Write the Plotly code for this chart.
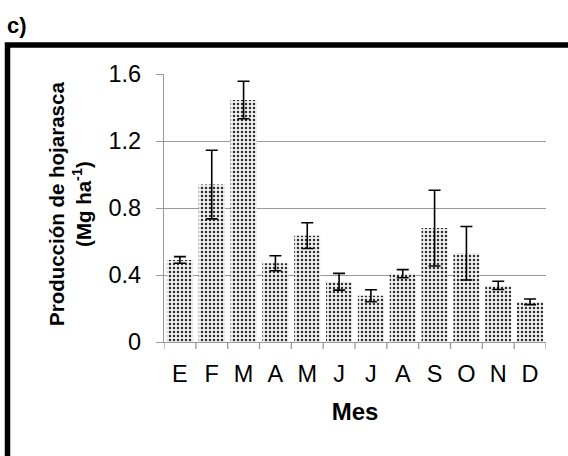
import plotly.graph_objects as go

# Monthly litterfall production (mean ± error)
meses = ["E", "F", "M", "A", "M", "J", "J", "A", "S", "O", "N", "D"]
produccion = [0.49, 0.94, 1.445, 0.47, 0.635, 0.36, 0.276, 0.408, 0.68, 0.53, 0.338, 0.24]
error = [0.02, 0.205, 0.112, 0.045, 0.077, 0.05, 0.036, 0.024, 0.226, 0.16, 0.025, 0.017]

y_ticks = [0, 0.4, 0.8, 1.2, 1.6]
y_tick_text = ["0", "0.4", "0.8", "1.2", "1.6"]

FONT = "Liberation Sans, Arial, sans-serif"
GRID = "#9a9a9a"

x_pos = list(range(len(meses)))

fig = go.Figure()
fig.add_trace(go.Bar(
    x=x_pos,
    y=produccion,
    width=0.82,
    marker=dict(
        color="#eeeeee",
        line=dict(width=0),
        pattern=dict(shape=".", fgcolor="#2e2e2e", bgcolor="#f2f2f2",
                     size=4, solidity=0.3, fillmode="replace"),
    ),
    error_y=dict(type="data", array=error, visible=True,
                 color="black", thickness=1.6, width=6),
    showlegend=False,
))

W, H = 568, 456
L, R, T, B = 164, 22, 74, 114
pw, ph = W - L - R, H - T - B


def px_x(px):
    return (px - L) / pw


def px_y(py):
    return (H - B - py) / ph


fig.update_layout(
    width=W, height=H,
    margin=dict(l=L, r=R, t=T, b=B, pad=0),
    paper_bgcolor="white",
    plot_bgcolor="white",
    font=dict(family=FONT, color="black"),
    bargap=0.18,
    xaxis=dict(
        tickmode="array",
        tickvals=x_pos,
        ticktext=meses,
        range=[-0.5, len(meses) - 0.5],
        showgrid=False,
        showline=True, linecolor=GRID, linewidth=1.3,
        ticks="", tickfont=dict(size=23.5, family=FONT),
        ticklabelstandoff=11,
        title=dict(text="<b>Mes</b>", font=dict(size=24, family=FONT), standoff=16),
        zeroline=False,
    ),
    yaxis=dict(
        range=[0, 1.6],
        tickmode="array",
        tickvals=y_ticks,
        ticktext=y_tick_text,
        showgrid=True, gridcolor=GRID, gridwidth=1.3,
        showline=True, linecolor=GRID, linewidth=1.3,
        ticks="outside", ticklen=7, tickcolor=GRID, tickwidth=1.3,
        ticklabelstandoff=10,
        tickfont=dict(size=23.5, family=FONT),
        zeroline=False,
    ),
)

# category boundary tick marks under the x axis
for i in range(len(meses) + 1):
    fig.add_shape(type="line", xref="x", yref="paper",
                  x0=i - 0.5, x1=i - 0.5, y0=0, y1=px_y(H - B + 7),
                  line=dict(color=GRID, width=1.3))

# y axis title (two lines)
fig.add_annotation(
    xref="paper", yref="paper",
    x=px_x(70), y=px_y(204),
    text="<b>Producción de hojarasca<br>(Mg ha<sup>-1</sup>)</b>",
    textangle=-90, showarrow=False,
    font=dict(size=20.5, family=FONT, color="black"),
    xanchor="center", yanchor="middle",
)

# panel label
fig.add_annotation(
    xref="paper", yref="paper",
    x=px_x(5), y=px_y(25),
    text="<b>c)</b>", showarrow=False,
    font=dict(size=22, family=FONT, color="black"),
    xanchor="left", yanchor="middle",
)

# panel frame (extends past the right and bottom edges)
fig.add_shape(type="rect", xref="paper", yref="paper",
              x0=px_x(7.5), x1=px_x(W + 40),
              y0=px_y(H + 40), y1=px_y(45),
              line=dict(color="black", width=5.5), layer="above")

fig.write_html("out.html")
